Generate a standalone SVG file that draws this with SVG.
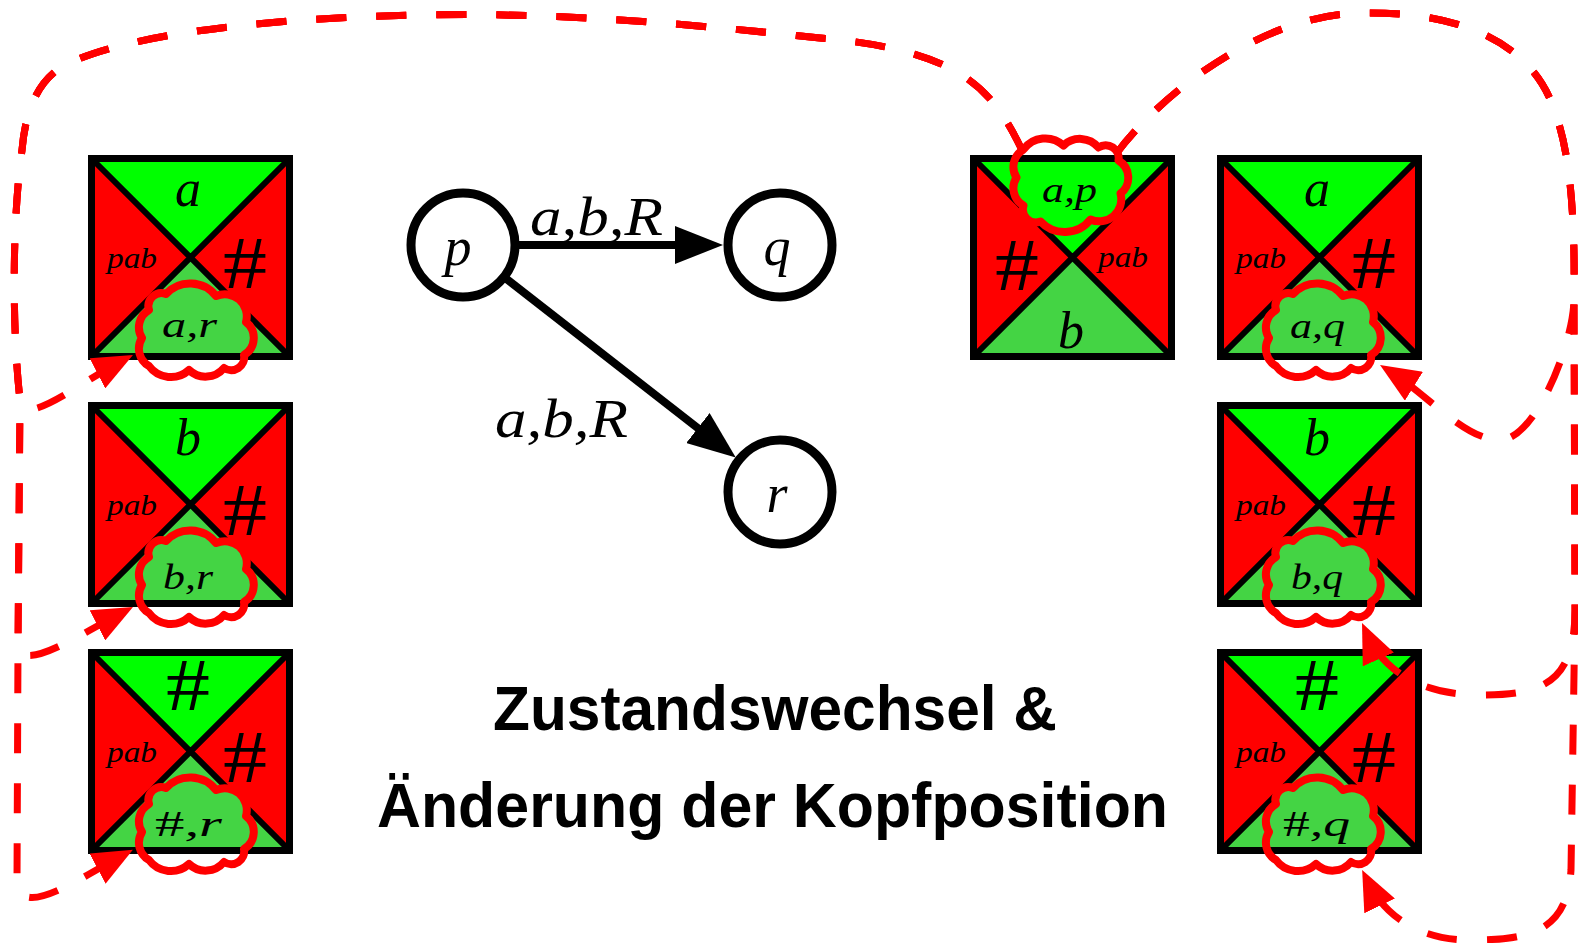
<svg xmlns="http://www.w3.org/2000/svg" xmlns:xlink="http://www.w3.org/1999/xlink" width="1578" height="943" viewBox="0 0 1578 943">
<style>
.gT{fill:#00ff00}
.gB{fill:#44d444}
.rd{fill:#ff0000}
.diag{stroke:#000;stroke-width:6;fill:none}
.frame{fill:none;stroke:#000;stroke-width:7}
.m{font-family:"Liberation Serif","DejaVu Serif",serif;font-style:italic;fill:#000}
.big{font-size:52px}
.pab{font-size:30px}
.cl{font-size:36px}
.hash{font-family:"Liberation Serif","DejaVu Serif",serif;font-size:75px;fill:#000}
.cloudline{fill:none;stroke:#ff0000;stroke-width:8;stroke-linejoin:round}
.state{fill:#fff;stroke:#000;stroke-width:9}
.edge{stroke:#000;stroke-width:8;fill:none}
.lab{font-size:54px}
.title{font-family:"Liberation Sans",Arial,sans-serif;font-weight:bold;font-size:63px;fill:#000}
.dash{fill:none;stroke:#ff0000;stroke-width:7;stroke-dasharray:30 30}
</style>
<defs>
<marker id="ah" markerUnits="userSpaceOnUse" markerWidth="48" markerHeight="38" refX="28" refY="19" orient="auto" viewBox="0 0 48 38"><path d="M0,0 L48,19 L0,38 Z" fill="#000"/></marker>
<marker id="rah" markerUnits="userSpaceOnUse" markerWidth="40" markerHeight="34" refX="28" refY="17" orient="auto" viewBox="0 0 40 34"><path d="M0,0 L40,17 L0,34 Z" fill="#ff0000"/></marker>
<clipPath id="inner"><rect x="7" y="7" width="191" height="191"/></clipPath>
<path id="cloud" d="M-28,-36 A33,33 0 0 1 22,-34 A22,22 0 0 1 52,-8 A20,20 0 0 1 50,25 A13,13 0 0 1 30,38 A24,24 0 0 1 -5,40 A27,27 0 0 1 -45,36 A20,20 0 0 1 -52,8 A20,20 0 0 1 -45,-20 A13,13 0 0 1 -28,-36 Z"/>
<g id="tileBase">
<polygon class="gT" points="3.5,3.5 201.5,3.5 102.5,102.5"/>
<polygon class="rd" points="3.5,3.5 102.5,102.5 3.5,201.5"/>
<polygon class="rd" points="201.5,3.5 102.5,102.5 201.5,201.5"/>
<polygon class="gB" points="3.5,201.5 102.5,102.5 201.5,201.5"/>
<path class="diag" d="M3.5,3.5 L201.5,201.5 M201.5,3.5 L3.5,201.5"/>
<rect class="frame" x="3.5" y="3.5" width="198" height="198"/>
</g>
</defs>
<rect width="1578" height="943" fill="#fff"/>

<!-- left column tiles -->
<g id="tile-ar" transform="translate(88,155)">
<use href="#tileBase"/>
<text class="m big" x="100" y="51" text-anchor="middle">a</text>
<text class="m pab" x="19" y="113" textLength="50" lengthAdjust="spacingAndGlyphs">pab</text>
<text class="hash" x="135" y="133" textLength="44" lengthAdjust="spacingAndGlyphs">#</text>
<g clip-path="url(#inner)"><use href="#cloud" transform="translate(106,175)" fill="#44d444"/></g>
<use href="#cloud" class="cloudline" transform="translate(106,175)"/>
<text class="m cl" x="74" y="182" textLength="55" lengthAdjust="spacingAndGlyphs">a,r</text>
</g>
<g id="tile-br" transform="translate(88,402)">
<use href="#tileBase"/>
<text class="m big" x="100" y="53" text-anchor="middle">b</text>
<text class="m pab" x="19" y="113" textLength="50" lengthAdjust="spacingAndGlyphs">pab</text>
<text class="hash" x="135" y="133" textLength="44" lengthAdjust="spacingAndGlyphs">#</text>
<g clip-path="url(#inner)"><use href="#cloud" transform="translate(106,175)" fill="#44d444"/></g>
<use href="#cloud" class="cloudline" transform="translate(106,175)"/>
<text class="m cl" x="75" y="187" textLength="50" lengthAdjust="spacingAndGlyphs">b,r</text>
</g>
<g id="tile-hr" transform="translate(88,649)">
<use href="#tileBase"/>
<text class="hash" x="78" y="61" textLength="44" lengthAdjust="spacingAndGlyphs">#</text>
<text class="m pab" x="19" y="113" textLength="50" lengthAdjust="spacingAndGlyphs">pab</text>
<text class="hash" x="135" y="133" textLength="44" lengthAdjust="spacingAndGlyphs">#</text>
<g clip-path="url(#inner)"><use href="#cloud" transform="translate(106,175)" fill="#44d444"/></g>
<use href="#cloud" class="cloudline" transform="translate(106,175)"/>
<text class="m cl" x="67" y="187" textLength="67" lengthAdjust="spacingAndGlyphs"><tspan font-style="normal">#</tspan>,r</text>
</g>

<!-- top tile with head -->
<g id="tile-ap" transform="translate(970,155)">
<use href="#tileBase"/>
<text class="hash" x="25" y="135" textLength="44" lengthAdjust="spacingAndGlyphs">#</text>
<text class="m pab" x="128" y="112" textLength="50" lengthAdjust="spacingAndGlyphs">pab</text>
<text class="m big" x="101" y="193" text-anchor="middle">b</text>
<g clip-path="url(#inner)"><use href="#cloud" transform="translate(98.5,30.5) scale(1,-1)" fill="#00ff00"/></g>
<use href="#cloud" class="cloudline" transform="translate(98.5,30.5) scale(1,-1)"/>
<text class="m cl" x="72" y="47" textLength="55" lengthAdjust="spacingAndGlyphs">a,p</text>
</g>

<!-- right column tiles -->
<g id="tile-aq" transform="translate(1217,155)">
<use href="#tileBase"/>
<text class="m big" x="100" y="51" text-anchor="middle">a</text>
<text class="m pab" x="19" y="113" textLength="50" lengthAdjust="spacingAndGlyphs">pab</text>
<text class="hash" x="135" y="133" textLength="44" lengthAdjust="spacingAndGlyphs">#</text>
<g clip-path="url(#inner)"><use href="#cloud" transform="translate(104,175)" fill="#44d444"/></g>
<use href="#cloud" class="cloudline" transform="translate(104,175)"/>
<text class="m cl" x="73" y="183" textLength="55" lengthAdjust="spacingAndGlyphs">a,q</text>
</g>
<g id="tile-bq" transform="translate(1217,402)">
<use href="#tileBase"/>
<text class="m big" x="100" y="53" text-anchor="middle">b</text>
<text class="m pab" x="19" y="113" textLength="50" lengthAdjust="spacingAndGlyphs">pab</text>
<text class="hash" x="135" y="133" textLength="44" lengthAdjust="spacingAndGlyphs">#</text>
<g clip-path="url(#inner)"><use href="#cloud" transform="translate(104,175)" fill="#44d444"/></g>
<use href="#cloud" class="cloudline" transform="translate(104,175)"/>
<text class="m cl" x="74" y="187" textLength="52" lengthAdjust="spacingAndGlyphs">b,q</text>
</g>
<g id="tile-hq" transform="translate(1217,649)">
<use href="#tileBase"/>
<text class="hash" x="78" y="61" textLength="44" lengthAdjust="spacingAndGlyphs">#</text>
<text class="m pab" x="19" y="113" textLength="50" lengthAdjust="spacingAndGlyphs">pab</text>
<text class="hash" x="135" y="133" textLength="44" lengthAdjust="spacingAndGlyphs">#</text>
<g clip-path="url(#inner)"><use href="#cloud" transform="translate(104,175)" fill="#44d444"/></g>
<use href="#cloud" class="cloudline" transform="translate(104,175)"/>
<text class="m cl" x="66" y="187" textLength="67" lengthAdjust="spacingAndGlyphs"><tspan font-style="normal">#</tspan>,q</text>
</g>

<!-- automaton edges -->
<g id="edges">
<line class="edge" x1="515" y1="245" x2="703" y2="245" marker-end="url(#ah)"/>
<line class="edge" x1="504" y1="277" x2="720" y2="445.3" marker-end="url(#ah)"/>
<text class="m lab" x="530" y="235" textLength="133" lengthAdjust="spacingAndGlyphs">a,b,R</text>
<text class="m lab" x="495" y="437" textLength="133" lengthAdjust="spacingAndGlyphs">a,b,R</text>
</g>

<!-- automaton states -->
<g id="state-p"><circle class="state" cx="463" cy="245" r="52"/><text class="m lab" x="458" y="265" text-anchor="middle">p</text></g>
<g id="state-q"><circle class="state" cx="780" cy="245" r="52"/><text class="m lab" x="777" y="265" text-anchor="middle">q</text></g>
<g id="state-r"><circle class="state" cx="780" cy="492" r="52"/><text class="m lab" x="777" y="512" text-anchor="middle">r</text></g>

<g id="title">
<text class="title" x="493" y="730" textLength="564" lengthAdjust="spacingAndGlyphs">Zustandswechsel &amp;</text>
<text class="title" x="377" y="827" textLength="791" lengthAdjust="spacingAndGlyphs">Änderung der Kopfposition</text>
</g>

<!-- dashed connectors from the head -->
<g id="connectors">
<path class="dash" marker-end="url(#rah)" d="M1022,150 C992,88 960,50 820,38 C700,25 560,12 420,15 C250,18 110,38 60,68 C35,85 25,115 22,150 C12,220 12,330 20,400 C22,430 82.3,381.1 122.3,360.5"/>
<path class="dash" marker-end="url(#rah)" d="M1022,150 C992,88 960,50 820,38 C700,25 560,12 420,15 C250,18 110,38 60,68 C35,85 25,115 22,150 C12,220 12,330 20,400 L18,645 C20,675 82.3,633.1 122.3,612.5"/>
<path class="dash" marker-end="url(#rah)" d="M1022,150 C992,88 960,50 820,38 C700,25 560,12 420,15 C250,18 110,38 60,68 C35,85 25,115 22,150 C12,220 12,330 20,400 L18,645 L17,880 C18,922 80,878 122.3,855.5"/>
<path class="dash" marker-end="url(#rah)" d="M1116,154 C1160,95 1260,15 1360,13 C1465,11 1535,45 1556,115 C1572,160 1575,230 1574,300 C1573,345 1535,440 1500,440 C1465,440 1428.4,395.3 1390.2,371.4"/>
<path class="dash" marker-end="url(#rah)" d="M1116,154 C1160,95 1260,15 1360,13 C1465,11 1535,45 1556,115 C1572,160 1575,230 1574,300 L1575,610 C1575,685 1540,695 1480,695 C1420,695 1383,670 1366.9,633.9"/>
<path class="dash" marker-end="url(#rah)" d="M1116,154 C1160,95 1260,15 1360,13 C1465,11 1535,45 1556,115 C1572,160 1575,230 1574,300 L1575,610 L1571,870 C1567,932 1530,940 1470,940 C1420,940 1385,917 1367.4,880.7"/>
</g>
</svg>
